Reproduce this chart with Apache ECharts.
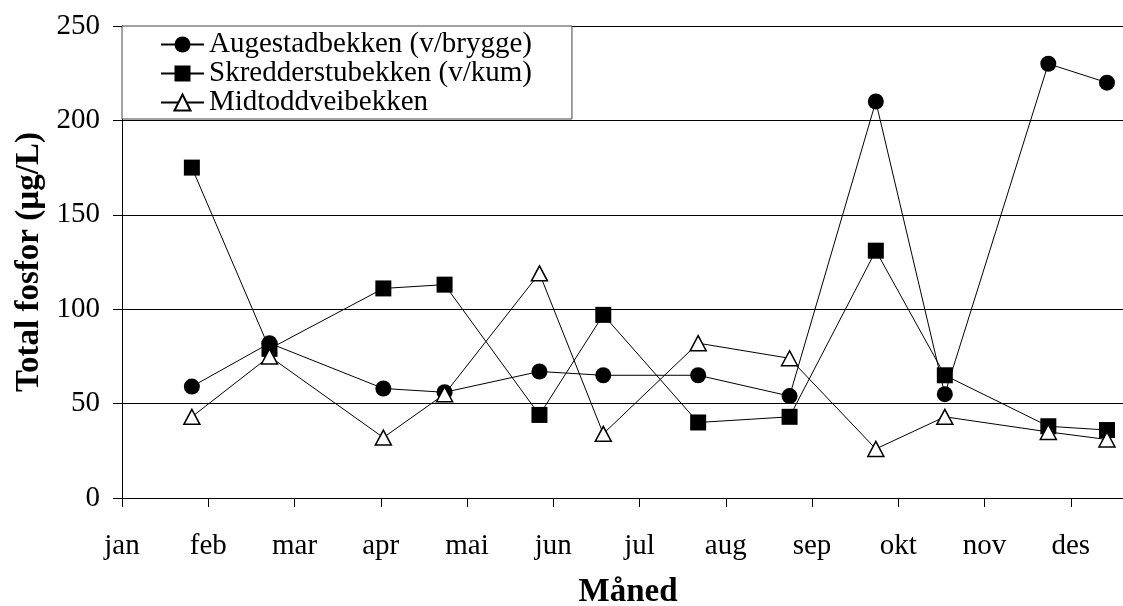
<!DOCTYPE html>
<html>
<head>
<meta charset="utf-8">
<script src="https://cdn.jsdelivr.net/npm/echarts@6/dist/echarts.min.js"></script>
<style>
  html, body { margin: 0; padding: 0; background: #fff; }
  #chart { width: 1123px; height: 606px; }
</style>
</head>
<body>
<div id="chart"></div>
<script>
// months on the x axis, samples plotted at fractional month positions
var months = ['jan', 'feb', 'mar', 'apr', 'mai', 'jun', 'jul', 'aug', 'sep', 'okt', 'nov', 'des']
var sampleMonth = [0.81, 1.71, 3.03, 3.74, 4.84, 5.58, 6.68, 7.74, 8.74, 9.54, 10.74, 11.42]

var augestad = [59, 82, 58, 56, 67, 65, 65, 54, 210, 55, 230, 220]
var skredder = [175, 79, 111, 113, 44, 97, 40, 43, 131, 65, 38, 36]
var midtodd = [43, 75, 32, 55, 119, 34, 82, 74, 26, 43, 35, 31]

var seriesNames = ['Augestadbekken (v/brygge)', 'Skredderstubekken (v/kum)', 'Midtoddveibekken']

function pairs (values) {
  return values.map(function (v, i) { return [sampleMonth[i], v] })
}

var font = 'Liberation Serif'
let myChart = echarts.init(document.getElementById('chart'))

myChart.setOption({
  animation: false,
  backgroundColor: '#fff',
  grid: {
    left: 122,
    right: -34,
    top: 26,
    bottom: 108,
    containLabel: false,
    outerBoundsMode: 'none'
  },
  legend: {
    data: seriesNames,
    orient: 'vertical',
    left: 122,
    top: 26,
    padding: [4, 40, 2, 38],
    itemGap: 0,
    itemWidth: 43,
    itemHeight: 20,
    backgroundColor: '#fff',
    borderColor: '#444',
    borderWidth: 1,
    textStyle: {
      fontFamily: font,
      fontSize: 29,
      lineHeight: 29,
      color: '#000'
    }
  },
  xAxis: {
    type: 'value',
    min: 0,
    max: 12,
    interval: 1,
    name: 'Måned',
    nameLocation: 'middle',
    nameGap: 78,
    nameTextStyle: {
      fontFamily: font,
      fontSize: 33,
      fontWeight: 'bold',
      color: '#000',
      padding: [0, 23, 0, 0]
    },
    axisLine: { lineStyle: { color: '#000', width: 1 } },
    axisTick: { show: true, inside: false, length: 9, lineStyle: { color: '#000' } },
    axisLabel: {
      margin: 34,
      fontFamily: font,
      fontSize: 29,
      color: '#000',
      formatter: function (v) { return months[v] || '' }
    },
    splitLine: { show: false }
  },
  yAxis: {
    type: 'value',
    min: 0,
    max: 250,
    interval: 50,
    name: 'Total fosfor (µg/L)',
    nameLocation: 'middle',
    nameGap: 76,
    nameTextStyle: {
      fontFamily: font,
      fontSize: 33,
      fontWeight: 'bold',
      color: '#000'
    },
    axisLine: { show: true, lineStyle: { color: '#000', width: 1 } },
    axisTick: { show: true, inside: false, length: 9, lineStyle: { color: '#000' } },
    axisLabel: {
      margin: 22,
      fontFamily: font,
      fontSize: 29,
      color: '#000'
    },
    splitLine: { show: true, lineStyle: { color: '#000', width: 1 } }
  },
  series: [{
    name: seriesNames[0],
    type: 'line',
    symbol: 'circle',
    symbolSize: 16,
    showAllSymbol: true,
    lineStyle: { color: '#000', width: 1 },
    itemStyle: { color: '#000' },
    data: pairs(augestad)
  }, {
    name: seriesNames[1],
    type: 'line',
    symbol: 'rect',
    symbolSize: 16,
    showAllSymbol: true,
    lineStyle: { color: '#000', width: 1 },
    itemStyle: { color: '#000' },
    data: pairs(skredder)
  }, {
    name: seriesNames[2],
    type: 'line',
    symbol: 'triangle',
    symbolSize: [16, 15],
    showAllSymbol: true,
    lineStyle: { color: '#000', width: 1 },
    itemStyle: { color: '#fff', borderColor: '#000', borderWidth: 1.5 },
    data: pairs(midtodd)
  }]
})
</script>
</body>
</html>
